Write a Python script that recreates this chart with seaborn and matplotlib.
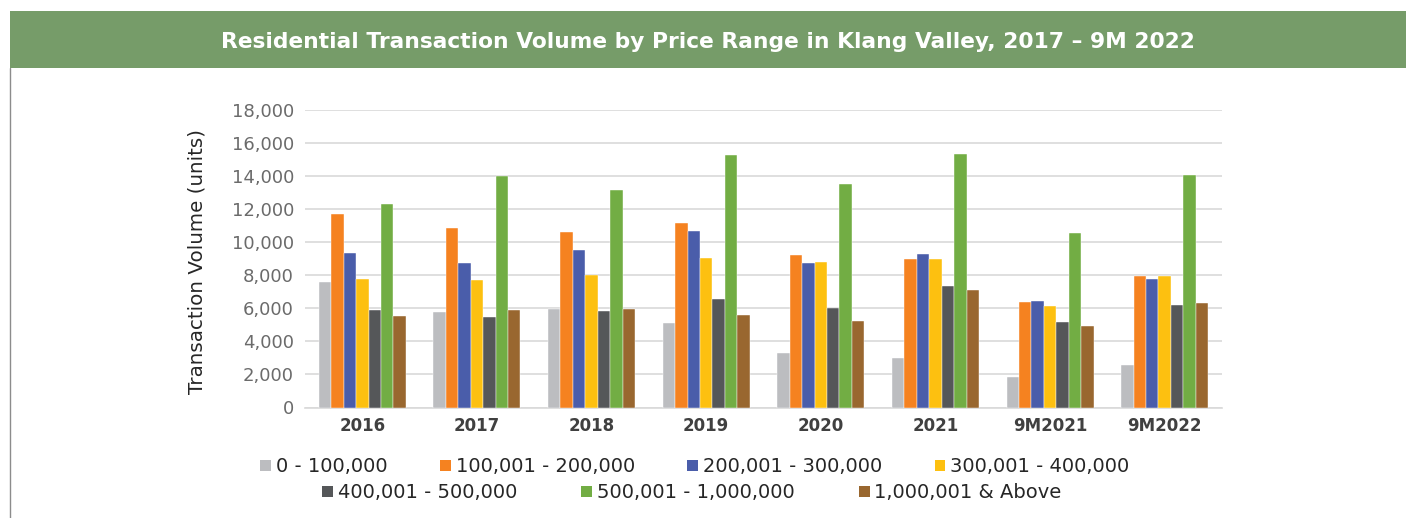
import pandas as pd
import matplotlib
matplotlib.use("Agg")
import matplotlib.pyplot as plt
import seaborn as sns
from matplotlib.patches import Patch, Rectangle
from matplotlib.lines import Line2D

# Data
periods = ["2016", "2017", "2018", "2019", "2020", "2021", "9M2021", "9M2022"]
price_ranges = ["0 - 100,000", "100,001 - 200,000", "200,001 - 300,000",
                "300,001 - 400,000", "400,001 - 500,000", "500,001 - 1,000,000",
                "1,000,001 & Above"]

r_0_100k = [7600, 5770, 5950, 5110, 3290, 2990, 1860, 2560]
r_100k_200k = [11690, 10860, 10600, 11120, 9220, 8980, 6380, 7970]
r_200k_300k = [9360, 8740, 9500, 10680, 8720, 9260, 6440, 7770]
r_300k_400k = [7770, 7730, 7990, 9060, 8760, 8960, 6110, 7950]
r_400k_500k = [5890, 5490, 5850, 6560, 6030, 7350, 5150, 6220]
r_500k_1m = [12310, 13970, 13160, 15280, 13500, 15340, 10560, 14070]
r_1m_above = [5530, 5910, 5930, 5610, 5210, 7080, 4900, 6320]

series = [r_0_100k, r_100k_200k, r_200k_300k, r_300k_400k,
          r_400k_500k, r_500k_1m, r_1m_above]
colors = ["#BCBDC0", "#F58220", "#4A5DAA", "#FDC010", "#555759", "#72AD44", "#99672F"]

rows = []
for name, vals in zip(price_ranges, series):
    for p, v in zip(periods, vals):
        rows.append({"period": p, "range": name, "units": v})
df = pd.DataFrame(rows)

sns.set_style("white")
plt.rcParams["font.family"] = ["DejaVu Sans"]

fig = plt.figure(figsize=(14.06, 5.18), dpi=100)
ax = fig.add_axes([305 / 1406, 1 - 407.5 / 518, 917 / 1406, 298 / 518])

sns.barplot(data=df, x="period", y="units", hue="range", order=periods,
            hue_order=price_ranges, palette=colors, saturation=1, width=0.76,
            errorbar=None, legend=False, ax=ax, zorder=3,
            edgecolor="white", linewidth=0.3)

ax.set_xlim(-0.5, 7.5)
ax.set_ylim(0, 18000)
ax.set_yticks(range(0, 18001, 2000))
ax.set_yticklabels([f"{v:,}" for v in range(0, 18001, 2000)])
ax.yaxis.grid(True, color="#D9D9D9", linewidth=1.2, zorder=0)
ax.set_axisbelow(True)
for s in ["top", "right", "left"]:
    ax.spines[s].set_visible(False)
ax.spines["bottom"].set_color("#D9D9D9")
ax.spines["bottom"].set_linewidth(1.2)

ax.tick_params(axis="y", length=0, pad=8, labelsize=13, labelcolor="#6B6B6B")
ax.tick_params(axis="x", length=0, pad=7, labelsize=12)
for t in ax.get_xticklabels():
    t.set_fontweight("bold")
    t.set_color("#404040")

ax.set_xlabel("")
ax.set_ylabel("Transaction Volume (units)", fontsize=14.3, color="#262626")
ax.yaxis.set_label_coords(-0.107, 0.49)

# Header band and left frame line
fig.patches.append(Rectangle((10 / 1406, 1 - 68 / 518), 1396 / 1406, 57 / 518,
                             transform=fig.transFigure, facecolor="#769C69",
                             edgecolor="none", zorder=0))
fig.lines.append(Line2D([10 / 1406, 10 / 1406], [0, 1 - 68 / 518],
                        transform=fig.transFigure, color="#8C8C8C", linewidth=1))
fig.text(708 / 1406, 1 - 42 / 518,
         "Residential Transaction Volume by Price Range in Klang Valley, 2017 \u2013 9M 2022",
         ha="center", va="center", color="white", fontsize=15.7, fontweight="bold")

# Two-row legend, each row centred like the reference
handles = [Patch(facecolor=c, edgecolor="none") for c in colors]
leg_kw = dict(loc="center", frameon=False, fontsize=14, handlelength=0.55,
              handleheight=0.55, handletextpad=0.25, labelcolor="#262626")
fig.legend(handles[:4], price_ranges[:4], ncol=4, columnspacing=2.7,
           bbox_to_anchor=(695 / 1406, 1 - 467 / 518), **leg_kw)
fig.legend(handles[4:], price_ranges[4:], ncol=3, columnspacing=3.3,
           bbox_to_anchor=(692 / 1406, 1 - 493 / 518), **leg_kw)

fig.savefig("out.png", dpi=100)
